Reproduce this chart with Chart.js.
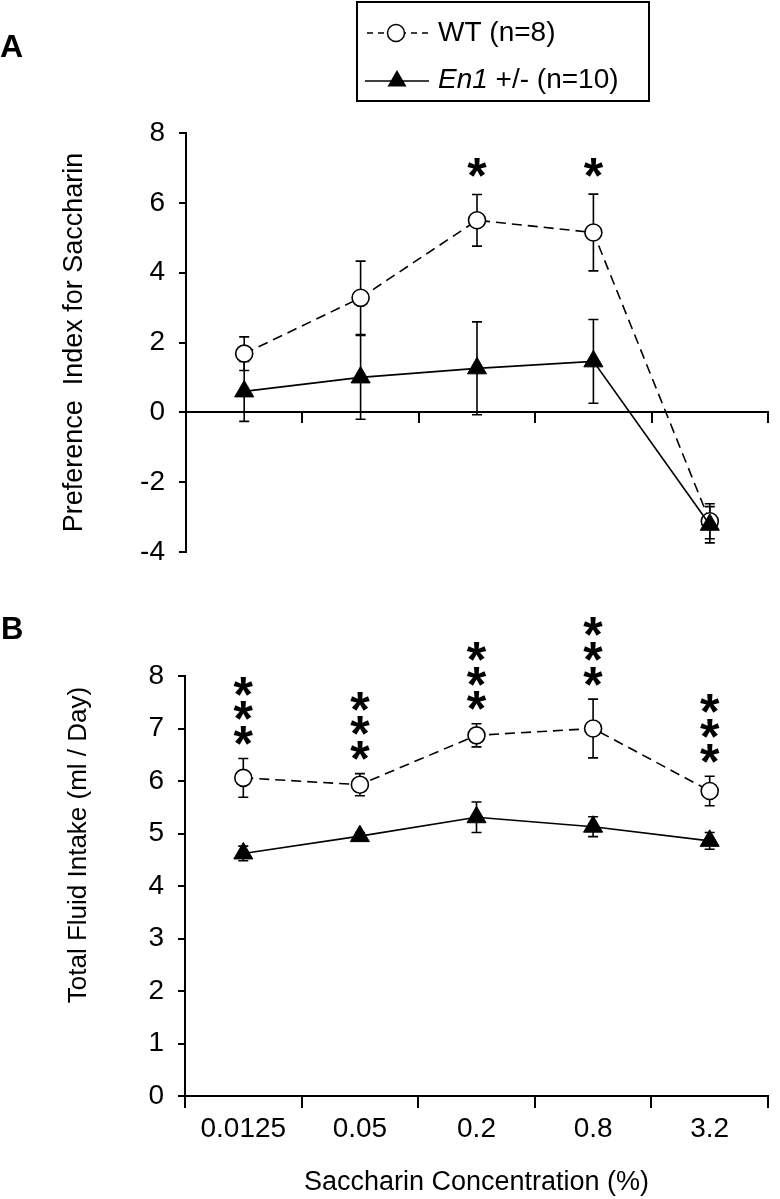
<!DOCTYPE html>
<html><head><meta charset="utf-8">
<script src="https://cdn.jsdelivr.net/npm/chart.js@4/dist/chart.umd.min.js"></script>
<style>
html,body{margin:0;padding:0;background:#fff;}
#wrap{position:relative;width:780px;height:1199px;overflow:hidden;}
canvas{position:absolute;left:0;}
#ca{top:0;width:780px;height:600px;}
#cb{top:600px;width:780px;height:599px;}
</style></head><body>
<div id="wrap"><canvas id="ca" width="780" height="600"></canvas><canvas id="cb" width="780" height="599"></canvas></div>
<script>
// ---- data ----
const categories = ['0.0125', '0.05', '0.2', '0.8', '3.2'];
const seriesNames = ['WT (n=8)', 'En1 +/- (n=10)'];
// Panel A: preference index
const prefWT = [1.68, 3.28, 5.50, 5.15, -3.12];
const prefWTsem = [0.48, 1.05, 0.74, 1.10, 0.50];
const prefEn1 = [0.60, 1.00, 1.26, 1.46, -3.22];
const prefEn1sem = [0.86, 1.20, 1.33, 1.20, 0.52];
const sigA = ['', '', '*', '*', ''];
const yTicksA = [-4, -2, 0, 2, 4, 6, 8];
// Panel B: total fluid intake
const fluidWT = [6.06, 5.93, 6.87, 7.00, 5.81];
const fluidWTsem = [0.37, 0.21, 0.22, 0.56, 0.28];
const fluidEn1 = [4.62, 4.95, 5.31, 5.13, 4.86];
const fluidEn1sem = [0.14, 0.07, 0.29, 0.19, 0.16];
const sigB = ['***', '***', '***', '***', '***'];
const yTicksB = [0, 1, 2, 3, 4, 5, 6, 7, 8];

const FONT = '"Liberation Sans", Arial, Helvetica, sans-serif';

const errorBars = {
  id: 'errorBars',
  beforeDatasetsDraw(chart) {
    const ctx = chart.ctx, ys = chart.scales.y;
    chart.data.datasets.forEach((ds, i) => {
      const meta = chart.getDatasetMeta(i);
      ctx.save();
      ctx.strokeStyle = '#000';
      ctx.lineWidth = 1.6;
      meta.data.forEach((pt, j) => {
        const m = ds.data[j], e = ds.sem[j];
        const yt = ys.getPixelForValue(m + e), yb = ys.getPixelForValue(m - e);
        const x = pt.x;
        ctx.beginPath();
        ctx.moveTo(x, yt); ctx.lineTo(x, yb);
        ctx.moveTo(x - 5, yt); ctx.lineTo(x + 5, yt);
        ctx.moveTo(x - 5, yb); ctx.lineTo(x + 5, yb);
        ctx.stroke();
      });
      ctx.restore();
    });
  }
};

const stars = {
  id: 'stars',
  afterDatasetsDraw(chart, args, opts) {
    const ctx = chart.ctx, ys = chart.scales.y;
    chart.data.datasets.forEach((ds, i) => {
      if (!ds.sig) return;
      const meta = chart.getDatasetMeta(i);
      ctx.save();
      ctx.fillStyle = '#000';
      ctx.font = 'bold 50px ' + FONT;
      ctx.textAlign = 'center';
      ctx.textBaseline = 'alphabetic';
      const mt = ctx.measureText('*');
      const off = (mt.actualBoundingBoxDescent - mt.actualBoundingBoxAscent) / 2;
      meta.data.forEach((pt, j) => {
        const n = ds.sig[j].length;
        const top = ys.getPixelForValue(ds.data[j] + ds.sem[j]);
        for (let k = 0; k < n; k++) {
          const cy = top - opts.gap - k * opts.spacing;
          ctx.fillText('*', pt.x, cy - off);
        }
      });
      ctx.restore();
    });
  }
};

function triangle(ctx, x, y, r) {
  ctx.beginPath();
  let a = 0;
  ctx.moveTo(x + Math.sin(a) * r, y - Math.cos(a) * r);
  a += 2 * Math.PI / 3;
  ctx.lineTo(x + Math.sin(a) * r, y - Math.cos(a) * r);
  a += 2 * Math.PI / 3;
  ctx.lineTo(x + Math.sin(a) * r, y - Math.cos(a) * r);
  ctx.closePath();
  ctx.fill();
}

const legendA = {
  id: 'legendA',
  afterDraw(chart) {
    const ctx = chart.ctx;
    ctx.save();
    ctx.fillStyle = '#000';
    ctx.font = 'bold 32px ' + FONT;
    ctx.textAlign = 'left';
    ctx.textBaseline = 'middle';
    ctx.fillText('A', 0, 48);
    ctx.strokeStyle = '#000';
    ctx.lineWidth = 2;
    ctx.strokeRect(357, 2, 292, 99);
    ctx.lineWidth = 1.5;
    ctx.setLineDash([6, 5]);
    ctx.beginPath(); ctx.moveTo(367, 33); ctx.lineTo(430, 33); ctx.stroke();
    ctx.setLineDash([]);
    ctx.beginPath(); ctx.arc(396, 33, 8.5, 0, Math.PI * 2);
    ctx.fillStyle = '#fff'; ctx.fill(); ctx.stroke();
    ctx.fillStyle = '#000';
    ctx.font = '28px ' + FONT;
    ctx.fillText(seriesNames[0], 438, 33);
    ctx.beginPath(); ctx.moveTo(365, 81); ctx.lineTo(429, 81); ctx.stroke();
    triangle(ctx, 397, 81, 11);
    ctx.font = 'italic 28px ' + FONT;
    ctx.fillText('En1', 438, 80);
    const w = ctx.measureText('En1').width;
    ctx.font = '28px ' + FONT;
    ctx.fillText(seriesNames[1].slice(3), 438 + w, 80);
    ctx.restore();
  }
};

const labelB = {
  id: 'labelB',
  afterDraw(chart) {
    const ctx = chart.ctx;
    ctx.save();
    ctx.fillStyle = '#000';
    ctx.font = 'bold 31px ' + FONT;
    ctx.textAlign = 'left';
    ctx.textBaseline = 'middle';
    ctx.fillText('B', 1, 30);
    ctx.translate(79, 245);
    ctx.rotate(-Math.PI / 2);
    ctx.font = '26px ' + FONT;
    ctx.textAlign = 'center';
    ctx.fillText('Total Fluid Intake (ml / Day)', 0, 0);
    ctx.restore();
  }
};

function datasets(wt, wtSem, en, enSem, sig) {
  return [
    { label: seriesNames[0], data: wt, sem: wtSem, sig: sig,
      borderColor: '#000', borderWidth: 1.6, borderDash: [10, 6], tension: 0,
      pointStyle: 'circle', pointRadius: 8.5, pointBackgroundColor: '#fff',
      pointBorderColor: '#000', pointBorderWidth: 1.6, order: 1 },
    { label: seriesNames[1], data: en, sem: enSem,
      borderColor: '#000', borderWidth: 1.6, tension: 0,
      pointStyle: 'triangle', pointRadius: 11, pointBackgroundColor: '#000',
      pointBorderColor: '#000', pointBorderWidth: 1, order: 0 }
  ];
}

const tickFont = { family: FONT, size: 28 };

new Chart(document.getElementById('ca'), {
  type: 'line',
  data: { labels: categories, datasets: datasets(prefWT, prefWTsem, prefEn1, prefEn1sem, sigA) },
  options: {
    responsive: false, animation: false, devicePixelRatio: 1,
    layout: { padding: { top: 133, bottom: 48, left: 0, right: 1 } },
    plugins: { legend: { display: false }, tooltip: { enabled: false }, stars: { gap: 27, spacing: 25 } },
    scales: {
      x: { type: 'category', position: { y: 0 }, offset: true,
        grid: { offset: true, drawOnChartArea: false, drawTicks: true, tickLength: 10, color: '#000', lineWidth: 2 },
        border: { color: '#000', width: 2 },
        ticks: { display: false } },
      y: { type: 'linear', min: -4, max: 8,
        afterBuildTicks(s) { s.ticks = yTicksA.map(v => ({ value: v })); },
        afterFit(s) { s.width = 186; },
        ticks: { color: '#000', font: tickFont, padding: 14 },
        grid: { drawOnChartArea: false, tickLength: 7, color: '#000', lineWidth: 2 },
        border: { color: '#000', width: 2 },
        title: { display: true, text: 'Preference  Index for Saccharin', color: '#000',
          font: { family: FONT, size: 27 }, padding: { top: 58, bottom: 0 } } }
    }
  },
  plugins: [errorBars, stars, legendA]
});

new Chart(document.getElementById('cb'), {
  type: 'line',
  data: { labels: categories, datasets: datasets(fluidWT, fluidWTsem, fluidEn1, fluidEn1sem, sigB) },
  options: {
    responsive: false, animation: false, devicePixelRatio: 1,
    layout: { padding: { top: 76, bottom: 0, left: 0, right: 1 } },
    plugins: { legend: { display: false }, tooltip: { enabled: false }, stars: { gap: 23, spacing: 24.7 } },
    scales: {
      x: { type: 'category', position: 'bottom', offset: true,
        afterFit(s) { s.height = 103; },
        grid: { offset: true, drawOnChartArea: false, drawTicks: true, tickLength: 12, color: '#000', lineWidth: 2 },
        border: { color: '#000', width: 2 },
        ticks: { color: '#000', font: tickFont, padding: 4, maxRotation: 0, autoSkip: false },
        title: { display: true, text: 'Saccharin Concentration (%)', color: '#000',
          font: { family: FONT, size: 27 }, padding: { top: 0, bottom: 0 } } },
      y: { type: 'linear', min: 0, max: 8,
        afterBuildTicks(s) { s.ticks = yTicksB.map(v => ({ value: v })); },
        afterFit(s) { s.width = 185; },
        ticks: { color: '#000', font: tickFont, padding: 14 },
        grid: { drawOnChartArea: false, tickLength: 7, color: '#000', lineWidth: 2 },
        border: { color: '#000', width: 2 } }
    }
  },
  plugins: [errorBars, stars, labelB]
});
</script>
</body></html>
